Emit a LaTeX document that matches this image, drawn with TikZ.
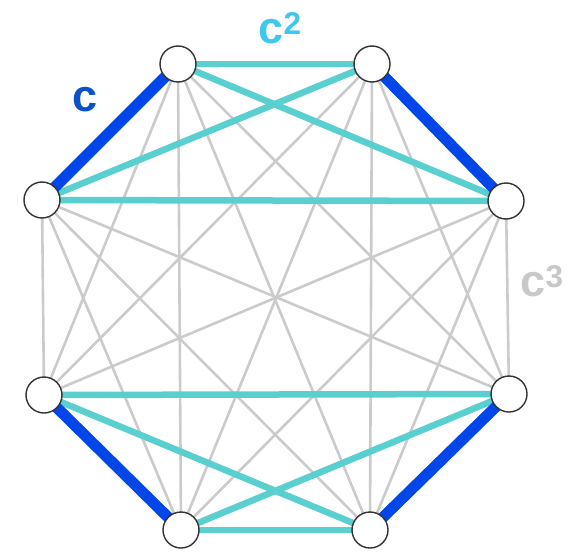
\documentclass[tikz,border=0pt]{standalone}
\usepackage{fontspec}
\setmainfont{Liberation Sans}
\definecolor{cblue}{HTML}{0046E8}
\definecolor{cteal}{HTML}{5ACFD0}
\definecolor{cgray}{HTML}{CBCBCB}
\definecolor{lblue}{HTML}{0A50C8}
\definecolor{lsky}{HTML}{3CC8F0}
\definecolor{lgray}{HTML}{C8C8C8}
\begin{document}
\begin{tikzpicture}[x=1pt,y=-1pt,
  vtx/.style={circle,draw=black!80,line width=1.4pt,fill=white,minimum size=36pt,inner sep=0pt},
  edgeone/.style={cblue,line width=11pt},
  edgetwo/.style={cteal,line width=6.5pt},
  edgethree/.style={cgray,line width=2.6pt},
  lbl/.style={inner sep=0pt}]
\useasboundingbox (0,0) rectangle (578,554);
\coordinate (TL) at (178,64);
\coordinate (TR) at (372,64);
\coordinate (RU) at (506,201);
\coordinate (RL) at (509,394);
\coordinate (BR) at (370,530);
\coordinate (BL) at (181,530);
\coordinate (LL) at (44,395);
\coordinate (LU) at (42,200);
% gray edges
\foreach \a/\b in {LU/LL, RU/RL, TL/BL, TR/BR, TL/LL, TL/RL, TL/BR, TR/LL, TR/RL, TR/BL,
  LU/RL, LU/BR, LU/BL, RU/LL, RU/BL, RU/BR}
  \draw[edgethree] (\a) -- (\b);
% teal edges
\foreach \a/\b in {TL/TR, TL/RU, TR/LU, LU/RU, LL/RL, LL/BR, RL/BL, BL/BR}
  \draw[edgetwo] (\a) -- (\b);
% blue edges
\foreach \a/\b in {LU/TL, TR/RU, RL/BR, BL/LL}
  \draw[edgeone] (\a) -- (\b);
\foreach \p in {TL,TR,RU,RL,BR,BL,LL,LU}
  \node[vtx] (n\p) at (\p) {};
\node[lbl,text=lblue,font=\fontsize{45}{45}\bfseries\selectfont] (lc) at (85,100) {c};
\node[lbl,text=lsky,font=\fontsize{45}{45}\bfseries\selectfont] (lc2) at (280,28) {c$^{\mathbf 2}$};
\node[lbl,text=lgray,font=\fontsize{45}{45}\bfseries\selectfont] (lc3) at (542,281) {c$^{\mathbf 3}$};
\end{tikzpicture}
\end{document}
